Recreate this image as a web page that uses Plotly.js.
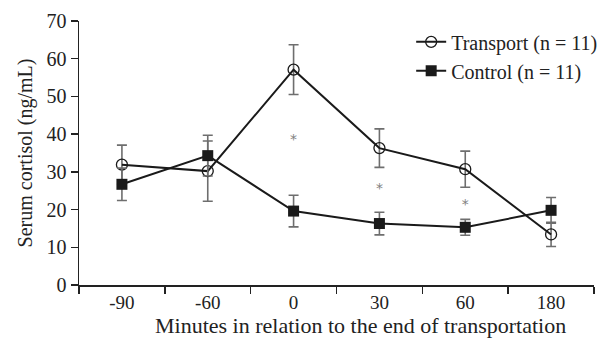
<!DOCTYPE html>
<html>
<head>
<meta charset="utf-8">
<script src="https://cdn.plot.ly/plotly-3.0.1.min.js"></script>
<style>html,body{margin:0;padding:0;background:#fff;}#chart{width:611px;height:338px;}</style>
</head>
<body>
<div id="chart"></div>
<script>
var categories = ["-90", "-60", "0", "30", "60", "180"];
var transportMean = [31.9, 30.2, 57.1, 36.3, 30.7, 13.4];
var transportErr = [5.2, 8.0, 6.6, 5.1, 4.8, 3.2];
var controlMean = [26.7, 34.3, 19.6, 16.3, 15.3, 19.8];
var controlErr = [4.3, 5.4, 4.2, 3.0, 2.1, 3.4];
var starCats = ["0", "30", "60"];
var starY = [38.2, 25.2, 21.2];

var serif = "Liberation Serif, Times New Roman, serif";

var traces = [
  {
    x: categories, y: transportMean, name: "Transport (n = 11)",
    type: "scatter", mode: "lines+markers",
    line: {color: "#1a1a1a", width: 2},
    marker: {symbol: "circle-open", size: 11, color: "#1a1a1a", line: {width: 1.3}},
    error_y: {type: "data", array: transportErr, visible: true, color: "#6e6e6e", thickness: 1.6, width: 5}
  },
  {
    x: categories, y: controlMean, name: "Control (n = 11)",
    type: "scatter", mode: "lines+markers",
    line: {color: "#1a1a1a", width: 2},
    marker: {symbol: "square", size: 11, color: "#1a1a1a"},
    error_y: {type: "data", array: controlErr, visible: true, color: "#6e6e6e", thickness: 1.6, width: 5}
  },
  {
    x: starCats, y: starY, type: "scatter", mode: "text",
    text: starCats.map(function(){return "*";}),
    textfont: {family: "DejaVu Sans, sans-serif", size: 14, color: "#808080"},
    showlegend: false, hoverinfo: "skip"
  }
];

var layout = {
  width: 611, height: 338,
  margin: {l: 79, r: 9, t: 21, b: 53},
  paper_bgcolor: "#fff", plot_bgcolor: "#fff",
  font: {family: serif, size: 20, color: "#222"},
  showlegend: true,
  legend: {x: 0.645, y: 0.995, xanchor: "left", yanchor: "top", bgcolor: "rgba(0,0,0,0)",
           font: {family: serif, size: 20, color: "#222"}, tracegroupgap: 0},
  xaxis: {
    type: "category", categoryorder: "array", categoryarray: categories,
    range: [-0.5, 5.5], tickson: "boundaries",
    ticks: "outside", ticklen: 7, tickwidth: 1.5, tickcolor: "#222",
    showline: true, linecolor: "#222", linewidth: 1.5,
    showgrid: false, zeroline: false,
    tickfont: {family: serif, size: 19, color: "#222"}
  },
  yaxis: {
    range: [0, 70], tickvals: [0, 10, 20, 30, 40, 50, 60, 70],
    ticks: "outside", ticklen: 7, tickwidth: 1.5, tickcolor: "#222",
    showline: true, linecolor: "#222", linewidth: 1.5,
    showgrid: false, zeroline: false,
    tickfont: {family: serif, size: 20, color: "#222"},
    title: {text: "Serum cortisol (ng/mL)", font: {family: serif, size: 20, color: "#222"}, standoff: 8}
  },
  annotations: [{
    text: "Minutes in relation to the end of transportation",
    xref: "paper", yref: "paper", x: 0.547, y: -0.2008, xanchor: "center", yanchor: "bottom",
    yshift: -1, showarrow: false, borderpad: 0, font: {family: serif, size: 22, color: "#222"}
  }]
};

Plotly.newPlot("chart", traces, layout, {displayModeBar: false, staticPlot: true});
</script>
</body>
</html>
